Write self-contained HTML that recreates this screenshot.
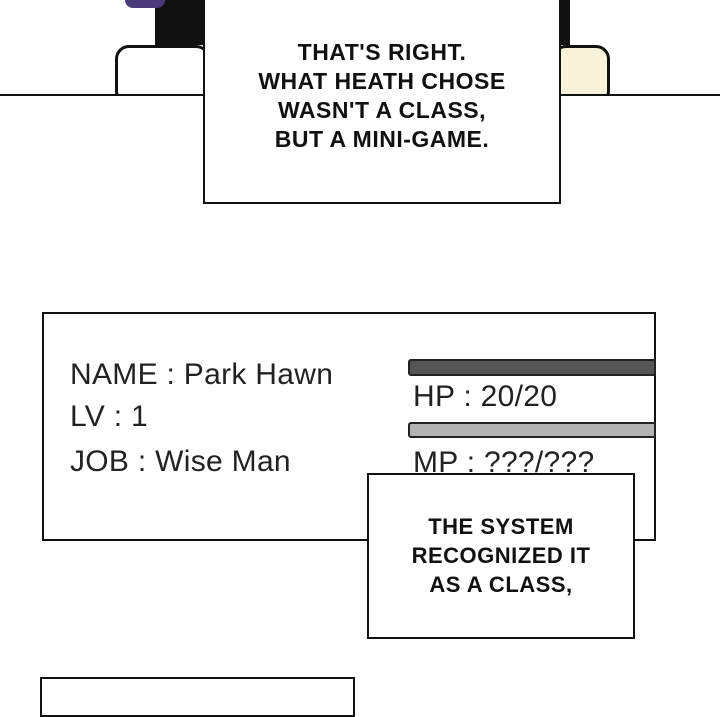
<!DOCTYPE html>
<html><head><style>
body{margin:0;width:720px;height:700px;background:#fff;position:relative;overflow:hidden;font-family:"Liberation Sans",sans-serif}
div{position:absolute;box-sizing:border-box}
.cap{font-family:"Liberation Sans",sans-serif;font-weight:bold;text-align:center;color:#111;letter-spacing:0.5px}
.t{font-size:30px;color:#222;line-height:1;white-space:nowrap;letter-spacing:0.3px}
</style></head><body>
<div style="left:115px;top:45px;width:95px;height:60px;border:3px solid #111;border-radius:14px;background:#fff"></div>
<div style="left:155px;top:0;width:50px;height:45px;background:#111"></div>
<div style="left:125px;top:0;width:40px;height:8px;background:#4b3a7a;border-radius:0 0 8px 8px"></div>
<div style="left:552px;top:45px;width:58px;height:60px;border:3px solid #111;border-radius:14px;background:#f7f2d8"></div>
<div style="left:555px;top:0;width:15px;height:45px;background:#111"></div>
<div style="left:0;top:96px;width:720px;height:10px;background:#fff"></div>
<div style="left:0;top:94px;width:720px;height:2px;background:#111"></div>
<div style="left:203px;top:-3px;width:358px;height:207px;border:2px solid #111;background:#fff"></div>
<div class="cap" style="left:203px;top:38px;width:358px;font-size:23px;line-height:29px">THAT'S RIGHT.<br>WHAT HEATH CHOSE<br>WASN'T A CLASS,<br>BUT A MINI-GAME.</div>
<div style="left:42px;top:312px;width:614px;height:229px;border:2px solid #111;background:#fff"></div>
<div class="t" style="left:70px;top:360px">NAME : Park Hawn</div>
<div class="t" style="left:70px;top:402px">LV : 1</div>
<div class="t" style="left:70px;top:447px">JOB : Wise Man</div>
<div style="left:408px;top:359px;width:248px;height:17px;background:#555;border:2px solid #222;border-radius:3px 0 0 3px"></div>
<div class="t" style="left:413px;top:382px">HP : 20/20</div>
<div style="left:408px;top:422px;width:248px;height:16px;background:#b3b3b3;border:2px solid #222;border-radius:3px 0 0 3px"></div>
<div class="t" style="left:413px;top:448px">MP : ???/???</div>
<div style="left:367px;top:473px;width:268px;height:166px;border:2px solid #111;background:#fff"></div>
<div class="cap" style="left:367px;top:512px;width:268px;font-size:22px;line-height:29px">THE SYSTEM<br>RECOGNIZED IT<br>AS A CLASS,</div>
<div style="left:40px;top:677px;width:315px;height:40px;border:2px solid #111;background:#fff"></div>
</body></html>
